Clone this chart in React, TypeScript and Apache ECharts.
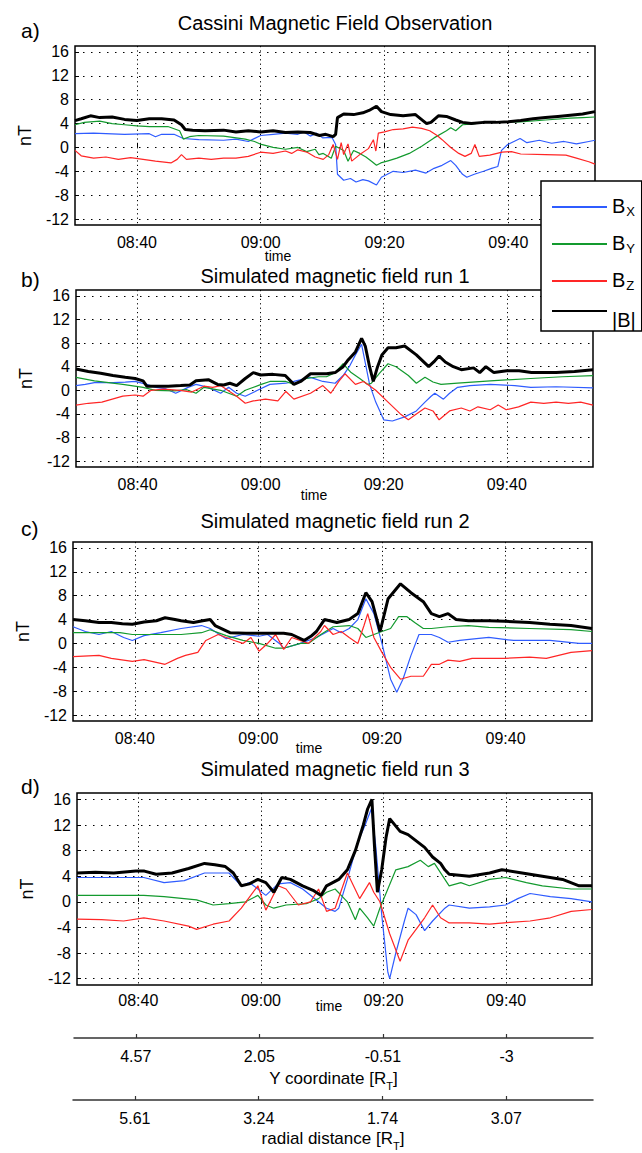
import React, { useEffect, useRef } from "react";
import * as echarts from "echarts";

// x values are minutes after 08:30
const timeTicks = [10, 30, 50, 70];
const timeLabels = ["08:40", "09:00", "09:20", "09:40"];
const yTicks = [-12, -8, -4, 0, 4, 8, 12, 16];
const yCoordLabels = ["4.57", "2.05", "-0.51", "-3"];
const radialLabels = ["5.61", "3.24", "1.74", "3.07"];
const panelTitles = [
  "Cassini Magnetic Field Observation",
  "Simulated magnetic field run 1",
  "Simulated magnetic field run 2",
  "Simulated magnetic field run 3",
];
const panelLetters = ["a)", "b)", "c)", "d)"];
const seriesNames = ["Bx", "By", "Bz", "|B|"];
const seriesColors = ["#2f5cff", "#139a2e", "#ff2626", "#000000"];

// ---- panel a: Cassini observation ----
const aBx = [[0,2.3],[3,2.4],[8,2.2],[12,2.3],[13,1.8],[14,2.2],[16,2.2],[17.5,1.5],[20,1.3],[24,1.2],[26,1.4],[28,1.0],[30,2.0],[32,2.2],[34,2.4],[36,2.2],[37,2.6],[38,1.9],[39,2.4],[40,1.6],[41.5,1.7],[42.1,0.5],[42.4,-4.5],[43.4,-5.5],[44.5,-5.2],[45.4,-5.8],[46.5,-5.4],[47.4,-5.6],[48.7,-6.3],[49.5,-5.0],[51.4,-4.0],[53,-4.2],[55,-3.8],[56.7,-4.3],[58,-3.5],[59.3,-3.0],[60.7,-2.2],[61.5,-3.0],[62.6,-4.5],[63.3,-5.0],[64.5,-4.5],[66,-4.0],[67.3,-3.5],[68.3,-3.2],[68.9,-0.5],[69.9,0.5],[71.9,1.5],[73,0.8],[75,1.2],[77,0.7],[79,1.0],[81,0.6],[83,1.0],[84,1.2]];
const aBy = [[0,3.8],[1.5,4.2],[4,4.4],[6,4.0],[8,3.8],[10,3.6],[12,3.5],[15,3.5],[16.9,2.8],[17.5,1.4],[18.5,1.8],[20,2.0],[24,1.9],[27.5,1.4],[29,1.0],[30.1,0.5],[32,0],[34,-0.3],[36,0.0],[37.4,-0.7],[38.8,-0.3],[39.4,-1.2],[40.1,-1.0],[41.4,-1.8],[42.1,0.2],[43.4,-0.5],[44.1,-2.3],[45,-0.5],[46,-1.0],[47,-1.6],[48,-2.4],[48.7,-3.0],[49.4,-2.6],[50.7,-2.2],[52,-1.8],[54,-1.0],[56,0.2],[58,1.6],[60,2.8],[60.7,3.3],[61.5,2.8],[62.6,3.8],[64,3.9],[66,4.2],[68.6,4.3],[72,4.3],[76,4.6],[80,4.9],[82,5.0],[84,5.1]];
const aBz = [[0,-0.5],[1,-1.4],[3,-1.8],[5,-1.6],[7,-2.0],[9,-1.7],[11,-2.0],[13,-2.3],[15.5,-2.6],[16.5,-2.0],[17.2,-1.2],[18,-2.0],[20,-1.8],[22,-2.0],[24,-1.8],[26,-1.8],[28,-1.5],[30,-0.8],[32,-1.0],[34,-0.6],[35,-1.0],[36,-0.4],[37.5,-0.8],[38.8,-1.6],[40.1,-2.0],[41,-1.2],[41.7,0.5],[42.4,-2.0],[43,0.8],[43.4,-1.2],[44.1,0.6],[44.7,-2.3],[46,-1.2],[47.4,-0.2],[48.2,1.3],[48.6,-0.6],[49,2.4],[50,2.6],[51.4,3.0],[53,3.1],[54.5,3.4],[56,3.2],[57.3,2.8],[58.5,2.0],[59.3,1.3],[60.7,0.0],[62,-1.0],[63,-1.5],[64,-1.0],[64.6,0.5],[65.3,-1.5],[67,-1.3],[69,-0.8],[70.5,-0.7],[72,-1.1],[76,-1.2],[79.3,-1.3],[81,-1.8],[83,-2.4],[84,-2.8]];
const aB = [[0,4.5],[1,4.8],[2.5,5.3],[4,5.0],[6,5.1],[8,4.7],[10,4.5],[12,4.8],[14,4.8],[16,4.6],[17.2,3.8],[17.8,3.0],[19,2.9],[21,2.8],[24,2.9],[26,2.6],[28,2.8],[30,2.6],[32,2.8],[34,2.5],[36,2.6],[38,2.5],[39.5,2.0],[40.5,2.2],[41.7,1.8],[42.1,2.2],[42.4,5.0],[43.4,5.6],[45,5.5],[46.5,5.8],[47.5,6.2],[48.7,6.9],[49.5,6.0],[51,5.5],[53,5.3],[55,5.5],[56.2,4.5],[56.8,4.0],[57.5,4.2],[58.7,5.3],[60,5.2],[61.5,4.6],[62.6,4.2],[64,4.0],[66,4.2],[68,4.2],[70,4.3],[72,4.5],[74,4.8],[76,5.0],[78,5.2],[80,5.4],[82,5.6],[84,6.0]];

// ---- panel b: run 1 ----
const bBx = [[0,0.8],[1.5,1.0],[3,1.3],[6,1.3],[8,1.4],[9.6,1.5],[11.5,1.0],[13,0.5],[14.5,0.3],[16.2,-0.5],[18.2,0.5],[19.5,1.0],[21.5,0.5],[23.5,-0.5],[24.8,0.5],[26.1,-0.5],[27.5,-1.0],[29.5,0],[31.5,1.0],[34.1,1.2],[35.4,1.5],[38.1,2.2],[40.1,1.5],[42.1,1.2],[43.4,2.5],[44.4,4.0],[45.4,6.0],[46.4,7.8],[47.7,1.0],[48.7,-2.0],[50,-5.0],[51.4,-5.2],[53.4,-4.5],[55.3,-3.5],[56.7,-2.0],[57.7,-1.0],[58.3,-0.5],[59,-1.0],[59.7,-1.5],[60.7,-0.5],[62,0.5],[64,0.8],[67.3,1.0],[71.3,0.8],[73.9,0.5],[78,0.6],[84,0.4]];
const bBy = [[0,2.2],[3,1.6],[7.6,1.0],[10.9,0.5],[12.9,0.0],[16,-0.1],[18,0.1],[19.5,-0.5],[20.8,0.5],[23.5,0.0],[26.1,-1.0],[27.5,0.0],[30.1,1.0],[31.5,1.5],[34.1,1.5],[35.4,1.0],[37.4,2.0],[39.4,2.3],[40.7,2.3],[42.1,3.0],[43.4,4.5],[44.7,3.0],[46.1,2.0],[47.4,1.0],[48,1.2],[49.4,3.0],[50.7,4.5],[52,4.0],[54,2.5],[55.3,1.2],[56.7,2.2],[58,1.4],[59.3,1.0],[62,1.2],[67.3,1.6],[73.9,2.0],[79,2.3],[84,2.5]];
const bBz = [[0,-2.5],[2,-2.2],[4.2,-2.0],[7.6,-1.0],[9.6,-0.8],[10.9,-1.0],[12.2,0.0],[14.2,0.2],[16.9,0.0],[18.8,-0.3],[20.8,0.7],[22.2,0.5],[23.5,0.8],[26.1,-1.0],[27.5,-2.2],[28.8,-1.8],[30.8,-1.5],[32.8,-1.8],[34.1,-0.2],[35.4,-1.5],[38.1,-0.5],[40.1,0.8],[41.4,-0.5],[42.7,1.5],[43.7,2.8],[45.4,1.0],[46.7,1.5],[47.4,1.0],[48.7,0.0],[50.7,-2.0],[52.7,-4.0],[54,-5.0],[55.3,-4.0],[56.7,-3.0],[58,-3.5],[59,-5.0],[60.7,-3.5],[62.6,-3.0],[64,-3.5],[65.3,-2.8],[67.3,-3.3],[68.6,-2.5],[69.9,-3.3],[71.9,-2.8],[73.9,-2.0],[76,-2.2],[78,-2.0],[80,-2.2],[82,-2.0],[84,-2.5]];
const bB = [[0,3.6],[2,3.2],[4,2.9],[6,2.5],[8,2.2],[9.6,2.0],[10.9,1.6],[11.5,0.7],[13,0.7],[15,0.7],[17,0.8],[18.5,0.9],[19.5,1.6],[21.5,1.8],[23,1.0],[24,0.9],[25,1.2],[26.1,0.8],[27.5,2.0],[28.8,3.0],[30,2.6],[32,2.7],[34,2.5],[35.4,1.0],[36.5,1.5],[38.1,2.8],[40.7,2.8],[42.1,3.0],[43.4,4.0],[44.1,5.0],[45.4,6.5],[46.4,8.8],[47,7.5],[47.7,4.0],[48.3,1.5],[49.0,4.0],[49.7,6.0],[50.7,7.2],[52,7.2],[53.4,7.5],[55.3,6.0],[57.3,4.0],[58.3,5.0],[59,5.8],[60,4.8],[61.3,4.0],[62.6,3.5],[64.6,3.8],[65.6,3.0],[66.6,4.0],[67.9,3.0],[70,3.3],[72,3.3],[74,3.0],[78,3.0],[81,3.2],[84,3.5]];

// ---- panel c: run 2 ----
const cBx = [[0,2.8],[2,2.0],[4.2,1.5],[6.2,2.0],[8.2,1.0],[9.6,0.5],[11.5,1.3],[14.2,1.8],[17.5,2.5],[20.8,3.0],[22.2,2.5],[24.8,0.8],[27.5,1.5],[30.1,1.2],[31.5,1.5],[33.4,0.0],[34.1,-0.8],[36.8,0.0],[39.4,1.0],[42.1,2.5],[43.4,1.8],[44.7,2.5],[46.1,4.0],[47.4,7.5],[48.7,5.0],[50,0.0],[51.4,-6.0],[52.4,-8.2],[53.4,-6.0],[54.7,-2.0],[56,1.5],[58,1.5],[59.3,1.0],[60.7,0.2],[62.6,0.5],[65.3,0.8],[67.3,1.0],[71.3,0.5],[77.2,0.5],[81.9,0],[84,0]];
const cBy = [[0,1.8],[4.2,1.8],[7.6,1.8],[9.6,1.5],[14.2,1.5],[17.5,1.5],[20.8,1.8],[22.2,2.3],[24.8,1.3],[27.5,0.5],[30.1,0.0],[32.8,-0.8],[34.1,-0.8],[36.8,0.0],[38.1,0.0],[40.1,1.5],[42.1,2.8],[44.7,3.0],[46.1,2.5],[47.4,1.0],[48.7,1.5],[50,2.0],[51.4,2.5],[52.7,4.5],[54,4.5],[55.3,3.5],[56.7,2.5],[58,2.5],[60.7,2.8],[64,3.0],[67.3,2.7],[73.9,2.5],[80.6,2.3],[84,2.0]];
const cBz = [[0,-2.2],[4.2,-2.0],[6.2,-2.5],[9.6,-3.0],[11.5,-2.7],[14.9,-3.5],[16.9,-2.5],[18.2,-2.0],[20.2,-1.5],[21.5,0.5],[23.5,1.5],[26.1,0.5],[27.5,0.0],[28.8,1.0],[30.1,-1.3],[31.5,0.0],[32.8,1.5],[34.1,-1.0],[35.4,1.0],[38.1,0.0],[40.1,2.0],[40.7,3.0],[42.1,1.5],[43.4,2.0],[44.7,1.0],[46.1,0.0],[47.1,3.0],[47.7,5.0],[48.7,1.0],[50,-1.5],[51.4,-4.0],[53,-6.0],[54.7,-5.5],[56.7,-5.5],[58,-3.5],[59.3,-3.5],[60.7,-2.8],[62.6,-3.0],[64.6,-2.5],[69.9,-2.5],[73.9,-2.3],[76.6,-2.5],[80.6,-1.5],[84,-1.2]];
const cB = [[0,4.0],[2,3.8],[4.2,3.5],[6.2,3.5],[8,3.3],[9.6,3.2],[11.5,3.6],[13.5,3.8],[14.9,4.3],[16.5,4.0],[17.5,3.8],[19.5,3.5],[21,3.8],[22.2,4.0],[23,3.0],[25.4,1.8],[28,1.7],[31,1.7],[34.1,1.7],[35.4,1.5],[37.4,0.5],[38.5,1.2],[39.4,2.0],[40.7,4.0],[42.7,3.5],[44.7,4.0],[46.1,5.0],[47.4,8.5],[48.4,7.0],[49.7,2.0],[51,7.5],[53,10.0],[54.7,8.5],[56.7,7.0],[58,5.0],[59.3,4.5],[60.7,5.0],[62,4.0],[64,3.8],[67.3,3.8],[69.9,3.7],[73.9,3.5],[77.2,3.2],[80.6,3.0],[84,2.5]];

// ---- panel d: run 3 ----
const dBx = [[0,3.8],[5,3.8],[10.9,3.8],[14.2,3.0],[17.5,3.3],[20.8,4.5],[24.8,4.5],[26.8,2.5],[28.1,3.0],[29.5,2.0],[30.8,1.0],[32.8,2.8],[34.8,3.0],[36.8,2.0],[39.4,0.0],[40.7,-1.0],[42.1,-1.5],[42.7,-1.0],[44.1,3.5],[45.4,8.0],[46.1,10.0],[47,12.0],[48,14.5],[48.7,9.0],[49.7,-2.0],[50.7,-11.0],[51,-12.0],[52,-8.0],[53.4,-3.0],[54,-1.0],[55.3,-2.0],[56.7,-4.5],[58,-3.0],[60,-1.0],[60.7,-0.5],[64,-1.0],[67.3,-0.8],[69.9,-0.5],[71.9,0.5],[73.9,1.3],[77.2,0.8],[80.6,0.5],[84,0.0]];
const dBy = [[0,1.0],[10.9,1.0],[14.2,0.8],[19.5,0.3],[22.2,-0.5],[24.8,-0.3],[27.5,0.0],[29.5,1.0],[30.8,-0.5],[32.1,-1.0],[34.1,-0.5],[37.4,-0.3],[39.4,0.5],[40.7,1.5],[42.1,2.0],[44.1,0.0],[45.4,-2.8],[46.1,-1.0],[47.4,-2.5],[48.4,-3.8],[49.4,-1.0],[50.7,2.0],[52,5.0],[54,5.5],[56,6.5],[57.3,5.5],[58.3,6.0],[60.7,2.5],[62.6,3.0],[64,2.5],[67.3,3.5],[69.9,3.8],[73.3,3.0],[75.9,2.5],[80.6,2.0],[84,2.0]];
const dBz = [[0,-2.7],[4,-2.8],[7.6,-3.0],[10.9,-2.5],[14.2,-3.0],[18.2,-3.8],[19.5,-4.3],[22.2,-3.5],[24.8,-3.0],[26.8,-1.0],[29.5,2.5],[30.8,-1.3],[32.8,2.5],[34.1,2.0],[36.1,-0.5],[38.1,0.0],[39.4,2.0],[40.7,-1.5],[42.1,-1.0],[44.1,4.5],[46.1,0.5],[47.7,3.0],[48.4,1.5],[49.4,0.0],[51,-5.0],[52.7,-9.3],[54,-6.0],[56.7,-2.5],[58,-0.5],[59.3,-2.5],[60.7,-3.3],[64,-3.3],[67.3,-3.5],[70.6,-3.2],[73.9,-3.0],[77.2,-2.5],[80.6,-1.5],[84,-1.2]];
const dB = [[0,4.5],[3,4.6],[6,4.5],[9.6,4.8],[11,4.8],[12.9,4.3],[15.5,4.5],[18.2,5.2],[20.8,6.0],[22.5,5.8],[24.2,5.5],[25.5,4.5],[26.8,2.5],[28.1,2.8],[29.5,3.5],[30.8,3.0],[32.1,1.5],[33.4,3.8],[34.8,3.5],[36.8,2.5],[38.5,1.8],[39.8,1.0],[40.7,2.5],[42.7,3.5],[44.1,5.0],[45.4,8.0],[46.7,12.0],[47.4,14.5],[48.1,16.0],[48.5,9.0],[49,1.5],[49.7,5.0],[50.4,10.0],[51,13.0],[52.7,11.0],[54,10.5],[56.7,8.5],[58,7.0],[59.3,6.0],[60,5.0],[60.7,4.3],[64,4.0],[67.3,4.5],[69.3,5.0],[72.6,4.5],[75.9,4.0],[79.2,3.5],[81.9,2.5],[84,2.5]];

const panelData = [
  [aBx, aBy, aBz, aB],
  [bBx, bBy, bBz, bB],
  [cBx, cBy, cBz, cB],
  [dBx, dBy, dBz, dB],
];

const FONT = '"Liberation Sans", Arial, Helvetica, sans-serif';

export default function App() {
  const ref = useRef<HTMLDivElement>(null);

  useEffect(() => {
    document.body.style.margin = "0";
    if (!ref.current) return;
    const chart = echarts.init(ref.current, undefined, { renderer: "svg" });

    const panelGrids = [
      { left: 75, top: 46, width: 520, height: 179 },
      { left: 76, top: 290, width: 517, height: 177 },
      { left: 73, top: 542, width: 519, height: 179 },
      { left: 77, top: 793, width: 515, height: 192 },
    ];
    const extraGrids = [
      { left: 74, top: 1037, width: 519, height: 1 },
      { left: 73, top: 1099, width: 520, height: 1 },
    ];
    const titleY = [23, 276, 521, 769];
    const letterY = [30, 279, 528, 786];
    const timeNamePos = [
      [278, 256],
      [314, 495],
      [309, 748],
      [329, 1006],
    ];

    const grid: any[] = [];
    const xAxis: any[] = [];
    const yAxis: any[] = [];
    const series: any[] = [];

    panelGrids.forEach((g, i) => {
      grid.push({ ...g, show: true, borderColor: "#000", borderWidth: 1.5, backgroundColor: "#fff", containLabel: false });
      xAxis.push({
        gridIndex: i,
        type: "value",
        min: 0,
        max: 84,
        axisLine: { show: false },
        axisTick: { show: true, inside: true, length: 4, customValues: timeTicks, lineStyle: { color: "#000", width: 1 } },
        axisLabel: {
          customValues: timeTicks,
          formatter: (v: number) => {
            const k = timeTicks.indexOf(v);
            return k >= 0 ? timeLabels[k] : "";
          },
          fontSize: 16,
          fontFamily: FONT,
          color: "#000",
          margin: i === 3 ? 7 : 9,
        },
        splitLine: { show: true, lineStyle: { color: "#000", width: 1, type: [1.2, 3.2] } },
      });
      yAxis.push({
        gridIndex: i,
        type: "value",
        min: -13,
        max: 17,
        axisLine: { show: false },
        axisTick: { show: true, inside: true, length: 4, customValues: yTicks, lineStyle: { color: "#000", width: 1 } },
        axisLabel: {
          customValues: yTicks,
          formatter: (v: number) => String(v),
          fontSize: 16,
          fontFamily: FONT,
          color: "#000",
          margin: 6,
        },
        splitLine: { show: true, lineStyle: { color: "#000", width: 1, type: [1.5, 6.5] } },
        name: "nT",
        nameLocation: "middle",
        nameGap: 41,
        nameRotate: 90,
        nameTextStyle: { fontSize: 18, fontFamily: FONT, color: "#000" },
      });
      panelData[i].forEach((d, k) => {
        series.push({
          name: seriesNames[k],
          type: "line",
          xAxisIndex: i,
          yAxisIndex: i,
          data: d,
          symbol: "none",
          showSymbol: false,
          lineStyle: { color: seriesColors[k], width: k === 3 ? 3 : 1.2 },
          itemStyle: { color: seriesColors[k] },
          z: 2 + k,
        });
      });
    });

    const extraLabels = [yCoordLabels, radialLabels];
    const extraNames = ["{n|Y coordinate [R}{s|T}{n|]}", "{n|radial distance [R}{s|T}{n|]}"];
    const extraGaps = [32, 30];
    extraGrids.forEach((g, j) => {
      const gi = 4 + j;
      grid.push({ ...g, show: false });
      xAxis.push({
        gridIndex: gi,
        type: "value",
        min: 0,
        max: 84,
        position: "bottom",
        axisLine: { show: true, onZero: false, lineStyle: { color: "#333", width: 1.5 } },
        axisTick: { show: true, inside: true, length: 4, customValues: timeTicks, lineStyle: { color: "#333", width: 1.2 } },
        axisLabel: {
          customValues: timeTicks,
          formatter: (v: number) => {
            const k = timeTicks.indexOf(v);
            return k >= 0 ? extraLabels[j][k] : "";
          },
          fontSize: 16,
          fontFamily: FONT,
          color: "#000",
          margin: 10,
        },
        splitLine: { show: false },
        name: extraNames[j],
        nameLocation: "middle",
        nameGap: extraGaps[j],
        nameTextStyle: {
          fontFamily: FONT,
          color: "#000",
          rich: {
            n: { fontSize: 17, lineHeight: 20, verticalAlign: "top", fontFamily: FONT, color: "#000" },
            s: { fontSize: 11, lineHeight: 11, padding: [10, 0, 0, 0], verticalAlign: "top", fontFamily: FONT, color: "#000" },
          },
        },
      });
      yAxis.push({ gridIndex: gi, type: "value", min: 0, max: 1, show: false });
      series.push({ name: "axis" + j, type: "line", xAxisIndex: gi, yAxisIndex: gi, data: [], symbol: "none" });
    });

    const graphic: any[] = [];
    panelTitles.forEach((t, i) => {
      graphic.push({
        type: "text",
        x: 335,
        y: titleY[i],
        style: { text: t, font: `20px ${FONT}`, fill: "#000", align: "center", verticalAlign: "middle", textAlign: "center", textVerticalAlign: "middle" },
        z: 10,
      });
      graphic.push({
        type: "text",
        x: 21,
        y: letterY[i],
        style: { text: panelLetters[i], font: `21px ${FONT}`, fill: "#000", align: "left", verticalAlign: "middle", textAlign: "left", textVerticalAlign: "middle" },
        z: 10,
      });
      graphic.push({
        type: "text",
        x: timeNamePos[i][0],
        y: timeNamePos[i][1],
        style: { text: "time", font: `14px ${FONT}`, fill: "#000", align: "center", verticalAlign: "middle", textAlign: "center", textVerticalAlign: "middle" },
        z: 10,
      });
    });

    const legendText: Record<string, string> = {
      Bx: "{b|B}{s|X}",
      By: "{b|B}{s|Y}",
      Bz: "{b|B}{s|Z}",
      "|B|": "{v||B|}",
    };

    chart.setOption({
      animation: false,
      backgroundColor: "#fff",
      textStyle: { fontFamily: FONT },
      grid,
      xAxis,
      yAxis,
      series,
      graphic,
      legend: {
        data: seriesNames,
        orient: "vertical",
        left: 541,
        top: 181,
        padding: [8, 6, 1, 10],
        itemGap: 8,
        itemWidth: 55,
        itemHeight: 14,
        itemStyle: { opacity: 0 },
        backgroundColor: "#fff",
        borderColor: "#000",
        borderWidth: 1.5,
        selectedMode: false,
        formatter: (name: string) => legendText[name] || name,
        textStyle: {
          color: "#000",
          fontFamily: FONT,
          rich: {
            b: { fontSize: 20, lineHeight: 22, verticalAlign: "top", fontFamily: FONT, color: "#000" },
            s: { fontSize: 13, lineHeight: 14, padding: [16, 0, 0, 1], verticalAlign: "bottom", fontFamily: FONT, color: "#000" },
            v: { fontSize: 20, lineHeight: 22, padding: [10, 0, 0, 0], verticalAlign: "top", fontFamily: FONT, color: "#000" },
          },
        },
        z: 20,
      },
    });

    return () => {
      chart.dispose();
    };
  }, []);

  return <div ref={ref} style={{ width: 642, height: 1153 }} />;
}
